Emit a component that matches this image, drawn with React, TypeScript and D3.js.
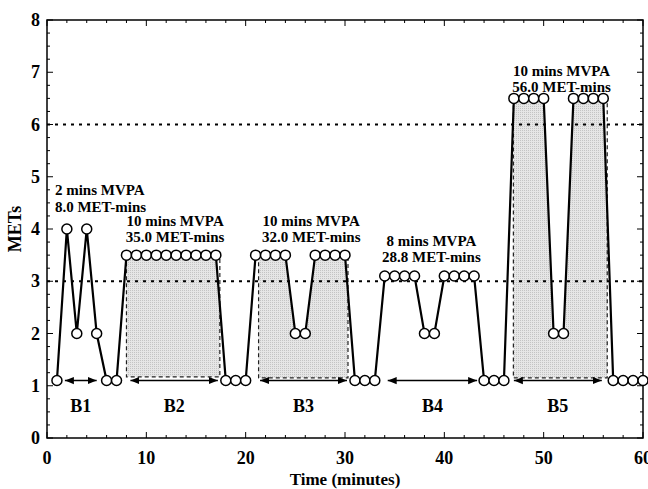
import React from 'react';
import * as d3 from 'd3';

// minute-by-minute METs
const minutes = d3.range(1, 61);
const mets = [
  1.1, 4, 2, 4, 2, 1.1, 1.1,
  3.5, 3.5, 3.5, 3.5, 3.5, 3.5, 3.5, 3.5, 3.5, 3.5,
  1.1, 1.1, 1.1,
  3.5, 3.5, 3.5, 3.5, 2, 2, 3.5, 3.5, 3.5, 3.5,
  1.1, 1.1, 1.1,
  3.1, 3.1, 3.1, 3.1, 2, 2, 3.1, 3.1, 3.1, 3.1,
  1.1, 1.1, 1.1,
  6.5, 6.5, 6.5, 6.5, 2, 2, 6.5, 6.5, 6.5, 6.5,
  1.1, 1.1, 1.1, 1.1,
];

const thresholds = [3, 6];

// bouts
const boutNames = ['B1', 'B2', 'B3', 'B4', 'B5'];
const arrowStart = [1.8, 8.4, 21.45, 34.3, 47.0];
const arrowEnd = [5.0, 17.2, 30.2, 43.3, 55.85];

// shaded bouts
const shadeStart = [8, 21.3, 46.95];
const shadeEnd = [17.4, 30.3, 56.4];
const shadeBase = [1.17, 1.15, 1.15];
const shadeTop = [3.5, 3.5, 6.5];

// annotations
const annoLine1 = ['2 mins MVPA', '10 mins MVPA', '10 mins MVPA', '8 mins MVPA', '10 mins MVPA'];
const annoLine2 = ['8.0 MET-mins', '35.0 MET-mins', '32.0 MET-mins', '28.8 MET-mins', '56.0 MET-mins'];
const annoX = [0.8, 12.9, 26.6, 38.7, 51.8];
const annoY = [4.65, 4.06, 4.06, 3.68, 6.93];
const annoAnchor = ['start', 'middle', 'middle', 'middle', 'middle'];

const xTicks = [0, 10, 20, 30, 40, 50, 60];
const yTicks = [0, 1, 2, 3, 4, 5, 6, 7, 8];

const W = 648;
const H = 489;
const m = { t: 20, r: 5, b: 51, l: 47 };
const font = '"Liberation Serif", "Times New Roman", serif';

export default function App() {
  const x = d3.scaleLinear().domain([0, 60]).range([m.l, W - m.r]);
  const y = d3.scaleLinear().domain([0, 8]).range([H - m.b, m.t]);
  const pts = minutes.map((t, i) => ({ t, v: mets[i] }));

  const line = d3.line<{ t: number; v: number }>().x(d => x(d.t)).y(d => y(d.v))(pts) || '';
  const area = (base: number) =>
    d3.area<{ t: number; v: number }>().x(d => x(d.t)).y0(y(base)).y1(d => y(d.v))(pts) || '';

  const minorX = d3.range(0, 61, 2);
  const minorY = d3.range(0, 8.01, 0.25);
  const x0 = x(0), x1 = x(60), y0 = y(0), y1 = y(8);

  return (
    <div style={{ position: 'absolute', left: 0, top: 0 }}>
      <svg width={W} height={H} style={{ display: 'block', background: '#fff' }}>
        <defs>
          <pattern id="dots" width={2} height={2} patternUnits="userSpaceOnUse">
            <rect width={2} height={2} fill="#e6e6e6" />
            <rect width={1} height={1} fill="#c4c4c4" />
          </pattern>
          {shadeStart.map((s, i) => (
            <clipPath id={`clip${i}`} key={i}>
              <rect x={x(s)} y={y(shadeTop[i])} width={x(shadeEnd[i]) - x(s)} height={y(shadeBase[i]) - y(shadeTop[i])} />
            </clipPath>
          ))}
          <marker id="ah" viewBox="0 0 10 10" refX={10} refY={5} markerWidth={9} markerHeight={9} orient="auto-start-reverse" markerUnits="userSpaceOnUse">
            <path d="M0,1 L10,5 L0,9 Z" fill="#000" />
          </marker>
        </defs>

        {/* shaded bouts */}
        {shadeStart.map((s, i) => (
          <g key={i}>
            <path d={area(shadeBase[i])} fill="url(#dots)" clipPath={`url(#clip${i})`} />
            <path
              d={`M${x(s)},${y(shadeTop[i])}V${y(shadeBase[i])}H${x(shadeEnd[i])}V${y(shadeTop[i])}`}
              fill="none" stroke="#222" strokeWidth={1.2} strokeDasharray="4,3"
            />
          </g>
        ))}

        {/* threshold lines */}
        {thresholds.map(v => (
          <line key={v} x1={x0} x2={x1} y1={y(v)} y2={y(v)} stroke="#000" strokeWidth={2} strokeDasharray="3,5" />
        ))}

        {/* frame + ticks */}
        <rect x={x0} y={y1} width={x1 - x0} height={y0 - y1} fill="none" stroke="#000" strokeWidth={1.5} />
        {minorX.map(t => {
          const len = t % 10 === 0 ? 6 : 3;
          return (
            <g key={t} stroke="#000" strokeWidth={1}>
              <line x1={x(t)} x2={x(t)} y1={y0} y2={y0 - len} />
              <line x1={x(t)} x2={x(t)} y1={y1} y2={y1 + len} />
            </g>
          );
        })}
        {minorY.map(v => {
          const len = Math.abs(v - Math.round(v)) < 1e-6 ? 6 : 3;
          return (
            <g key={v} stroke="#000" strokeWidth={1}>
              <line x1={x0} x2={x0 + len} y1={y(v)} y2={y(v)} />
              <line x1={x1} x2={x1 - len} y1={y(v)} y2={y(v)} />
            </g>
          );
        })}

        {/* tick labels */}
        {xTicks.map(t => (
          <text key={t} x={x(t)} y={y0 + 26} textAnchor="middle" fontFamily={font} fontWeight="bold" fontSize={18}>{t}</text>
        ))}
        {yTicks.map(v => (
          <text key={v} x={x0 - 7} y={y(v) + 6} textAnchor="end" fontFamily={font} fontWeight="bold" fontSize={18}>{v}</text>
        ))}
        <text x={(x0 + x1) / 2} y={485} textAnchor="middle" fontFamily={font} fontWeight="bold" fontSize={17}>Time (minutes)</text>
        <text transform={`translate(21,${(y0 + y1) / 2}) rotate(-90)`} textAnchor="middle" fontFamily={font} fontWeight="bold" fontSize={18}>METs</text>

        {/* data line + markers */}
        <path d={line} fill="none" stroke="#000" strokeWidth={2.2} />
        {pts.map(d => (
          <circle key={d.t} cx={x(d.t)} cy={y(d.v)} r={5} fill="#fff" stroke="#000" strokeWidth={1.5} />
        ))}

        {/* bout arrows + labels */}
        {boutNames.map((b, i) => (
          <g key={b}>
            <line x1={x(arrowStart[i])} x2={x(arrowEnd[i])} y1={y(1.1)} y2={y(1.1)} stroke="#000" strokeWidth={1.5}
              markerStart="url(#ah)" markerEnd="url(#ah)" />
            <text x={x((arrowStart[i] + arrowEnd[i]) / 2)} y={y(0.5)} textAnchor="middle" fontFamily={font} fontWeight="bold" fontSize={18}>{b}</text>
          </g>
        ))}

        {/* annotations */}
        {annoLine1.map((a, i) => (
          <text key={i} x={x(annoX[i])} y={y(annoY[i])} textAnchor={annoAnchor[i]} fontFamily={font} fontWeight="bold" fontSize={15}>
            <tspan x={x(annoX[i])}>{a}</tspan>
            <tspan x={x(annoX[i])} dy={16.5}>{annoLine2[i]}</tspan>
          </text>
        ))}
      </svg>
    </div>
  );
}
